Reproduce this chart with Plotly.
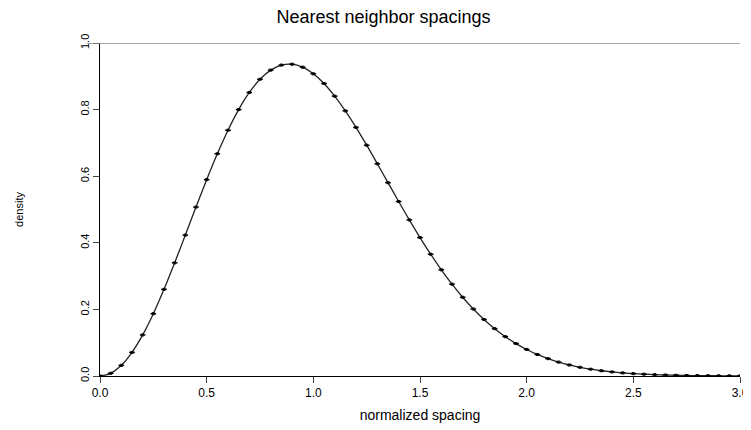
import plotly.graph_objects as go

spacing = [round(0.05 * i, 2) for i in range(61)]
density = [0, .0081, .0320, .0709, .1233, .1871, .2602, .3398, .4232, .5073,
           .5896, .6673, .7381, .8000, .8514, .8911, .9186, .9337, .9363, .9273,
           .9075, .8783, .8404, .7962, .7466, .6931, .6373, .5805, .5240, .4688,
           .4158, .3657, .3189, .2758, .2365, .2012, .1698, .1421, .1181, .0974,
           .0797, .0647, .0521, .0417, .0331, .0261, .0204, .0158, .0122, .0093,
           .0071, .0054, .0040, .0030, .0022, .0016, .0012, .0009, .0006, .0004, .0003]

fig = go.Figure()
fig.add_trace(go.Scatter(x=spacing, y=density, mode="lines", line=dict(color="#222", width=1.3, shape="spline")))
fig.add_trace(go.Scatter(x=spacing, y=density, mode="markers",
                         marker=dict(symbol="line-ew", size=4, line=dict(color="black", width=1.5)),
                         error_y=dict(type="constant", value=0.003, width=1.5, color="black", thickness=1)))

fig.add_shape(type="line", xref="paper", yref="y", x0=-0.02, x1=1, y0=1, y1=1, line=dict(color="#888", width=1.5))

fig.update_layout(
    width=751, height=430, showlegend=False, plot_bgcolor="white", paper_bgcolor="white",
    margin=dict(l=92, r=19, t=35, b=62, autoexpand=False),
    font=dict(family="Liberation Sans", color="black", size=12),
    title=dict(text="Nearest neighbor spacings", x=0.5, xanchor="center", yanchor="top", y=0.995, font=dict(size=18)),
    xaxis=dict(range=[0, 3], tickvals=[0, 0.5, 1, 1.5, 2, 2.5, 3], ticktext=["0.0", "0.5", "1.0", "1.5", "2.0", "2.5", "3.0"],
               showgrid=False, zeroline=False, showline=True, linecolor="black", ticks="outside", ticklen=6,
               automargin=False, title=dict(text="normalized spacing", standoff=10)),
    yaxis=dict(range=[0, 1], tickvals=[0, 0.2, 0.4, 0.6, 0.8, 1], ticktext=["0.0", "0.2", "0.4", "0.6", "0.8", "1.0"],
               tickangle=-90, showgrid=False, zeroline=False, showline=True, linecolor="black", ticks="outside", ticklen=6,
               automargin=False, title=dict(text="density", font=dict(size=11), standoff=52), tickfont=dict(size=11)),
)
fig.write_html("out.html")
